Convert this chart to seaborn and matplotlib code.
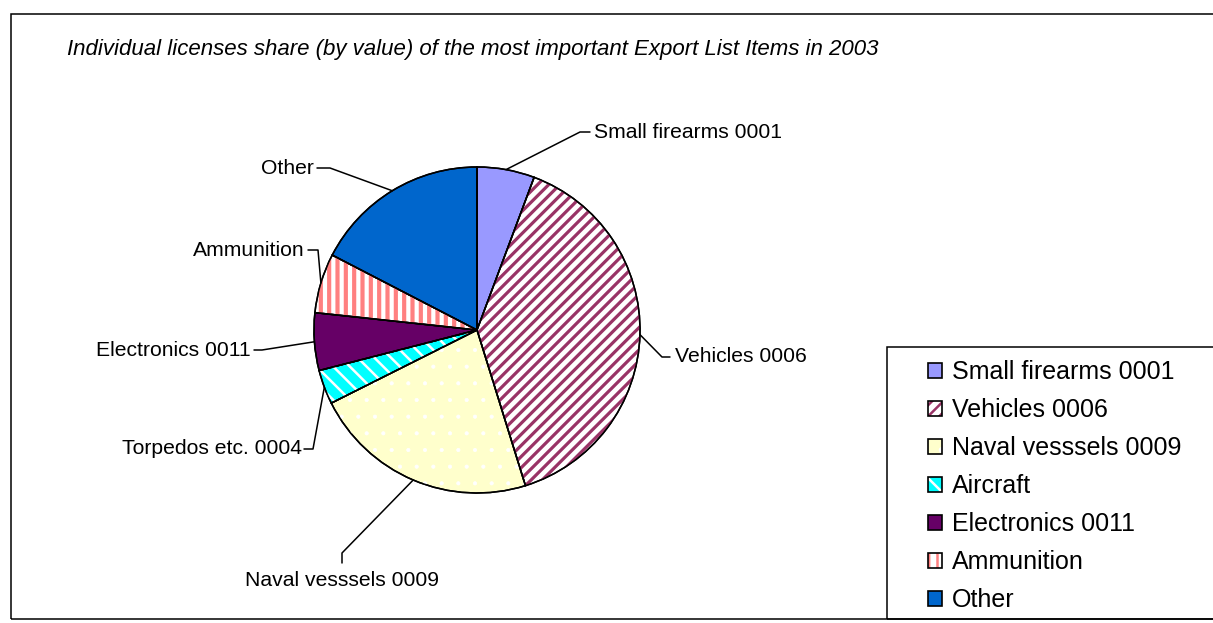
import numpy as np
import matplotlib
matplotlib.use("Agg")
import matplotlib.pyplot as plt
from matplotlib.patches import Wedge, Patch, Rectangle
from matplotlib.lines import Line2D
from matplotlib.legend_handler import HandlerTuple
import seaborn as sns

# ---- data -------------------------------------------------------------
categories = ["Small firearms 0001", "Vehicles 0006", "Naval vesssels 0009",
              "Aircraft", "Electronics 0011", "Ammunition", "Other"]
slice_labels = ["Small firearms 0001", "Vehicles 0006", "Naval vesssels 0009",
                "Torpedos etc. 0004", "Electronics 0011", "Ammunition", "Other"]
shares = [5.7, 39.5, 22.4, 3.4, 5.7, 5.9, 17.4]
title = "Individual licenses share (by value) of the most important Export List Items in 2003"

# ---- styling ----------------------------------------------------------
face_colors = ["#9999FF", "#FFFFFF", "#FFFFCC", "#00FFFF", "#660066", "#FFFFFF", "#0066CC"]
hatch_colors = [None, "#993366", "#FFFFFF", "#FFFFFF", None, "#FF8080", None]
hatches = [None, "///", ".", "\\\\", None, "||", None]
hatch_widths = [0, 2.3, 0.5, 1.8, 0, 3.0, 0]

sns.set_theme(style="white")
plt.rcParams["font.family"] = ["Liberation Sans", "DejaVu Sans"]
plt.rcParams["text.color"] = "black"
plt.rcParams["hatch.linewidth"] = 1.8

W, H = 1213, 623
fig = plt.figure(figsize=(W / 100, H / 100), dpi=100)
fig.patch.set_facecolor("white")


def px(x, y):
    """pixel position (from top-left) -> figure fraction"""
    return (x / W, 1 - y / H)


# pie axes: centre (477, 330) px, radius 163 px, small margin for the outline
CX, CY, R = 477, 330, 163
M = 1.1
ax = fig.add_axes([(CX - R * M) / W, 1 - (CY + R * M) / H, 2 * R * M / W, 2 * R * M / H])

wedges, _ = ax.pie(shares, colors=face_colors, startangle=90, counterclock=False,
                   radius=1.0, wedgeprops=dict(edgecolor="black", linewidth=1.1))
ax.set_xlim(-M, M)
ax.set_ylim(-M, M)
ax.set_aspect("equal")
ax.axis("off")


def set_hw(p, w):
    if hasattr(p, "set_hatch_linewidth"):
        p.set_hatch_linewidth(w)


# patterned overlays and crisp outlines
for w, hc, h, hw in zip(wedges, hatch_colors, hatches, hatch_widths):
    if h:
        hp = Wedge((0, 0), 1.0, w.theta1, w.theta2, facecolor="none",
                   edgecolor=hc, linewidth=0, hatch=h, zorder=2)
        set_hw(hp, hw)
        ax.add_patch(hp)
    ax.add_patch(Wedge((0, 0), 1.0, w.theta1, w.theta2, facecolor="none",
                       edgecolor="black", linewidth=1.1, zorder=3))

# ---- leader lines and slice labels -----------------------------------
# (elbow, line end, text anchor, ha) in pixels
label_layout = [
    ((580, 132), (590, 132), (594, 132), "left"),
    ((662, 357), (670, 357), (675, 356), "left"),
    ((342, 553), (342, 563), (342, 580), "center"),
    ((313, 449), (304, 449), (302, 449), "right"),
    ((262, 350), (254, 350), (251, 350), "right"),
    ((318, 250), (308, 250), (305, 250), "right"),
    ((330, 168), (317, 168), (314, 168), "right"),
]

fig.canvas.draw()
to_fig = fig.transFigure.inverted()
for w, lab, (elbow, end, txt, ha) in zip(wedges, slice_labels, label_layout):
    mid = np.deg2rad((w.theta1 + w.theta2) / 2)
    edge = to_fig.transform(ax.transData.transform((np.cos(mid), np.sin(mid))))
    e1, e2 = px(*elbow), px(*end)
    fig.add_artist(Line2D([edge[0], e1[0], e2[0]], [edge[1], e1[1], e2[1]],
                          color="black", linewidth=1.1, transform=fig.transFigure))
    fig.text(*px(*txt), lab, ha=ha, va="center", fontsize=15.2, color="black")

# ---- title ------------------------------------------------------------
fig.text(*px(67, 49), title, ha="left", va="center", fontsize=16,
         style="italic", color="black")

# ---- chart border and legend box --------------------------------------
bx, by = px(10.5, 619)
fig.add_artist(Rectangle((bx, by), (1240 - 10.5) / W, (619 - 14) / H,
                         transform=fig.transFigure, facecolor="none",
                         edgecolor="black", linewidth=1.1))
lx, ly = px(887, 619)
fig.add_artist(Rectangle((lx, ly), (1240 - 887) / W, (619 - 347) / H,
                         transform=fig.transFigure, facecolor="none",
                         edgecolor="black", linewidth=1.1))

handles = []
for fc, hc, h, hw in zip(face_colors, hatch_colors, hatches, hatch_widths):
    if h:
        hp = Patch(facecolor=fc, edgecolor=hc, linewidth=0, hatch=h)
        set_hw(hp, min(hw, 1.6))
        outline = Patch(facecolor="none", edgecolor="black", linewidth=1.2)
        handles.append((hp, outline))
    else:
        handles.append(Patch(facecolor=fc, edgecolor="black", linewidth=1.2))

leg = fig.legend(handles, categories, loc="upper left", bbox_to_anchor=px(928, 360),
                 bbox_transform=fig.transFigure, frameon=False, fontsize=18,
                 borderpad=0, borderaxespad=0, handlelength=0.55, handleheight=0.55,
                 handletextpad=0.4, labelspacing=0.56,
                 handler_map={tuple: HandlerTuple(ndivide=1, pad=0)})
for t in leg.get_texts():
    t.set_color("black")

fig.savefig("out.png", dpi=100, facecolor="white")
